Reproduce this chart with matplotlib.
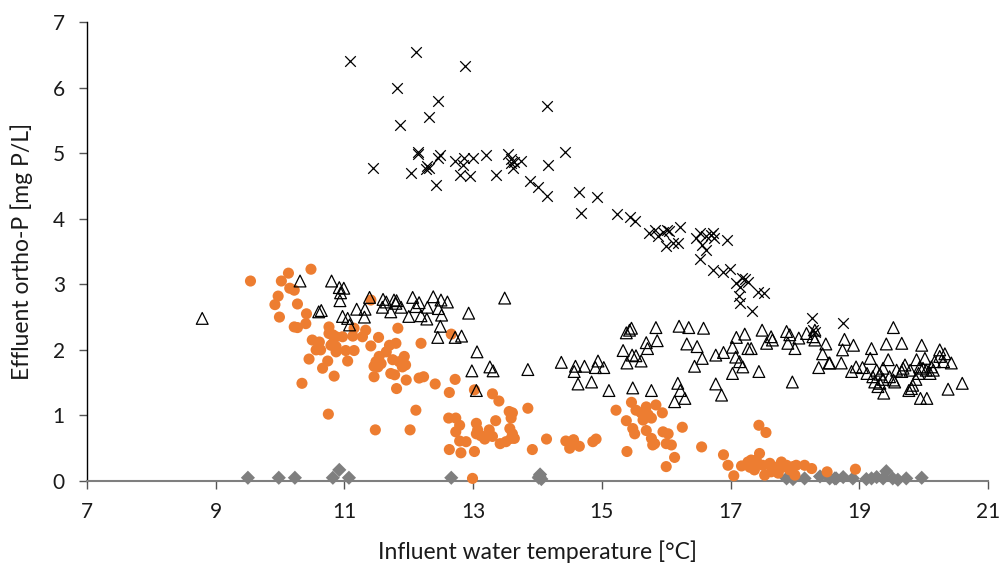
import matplotlib
matplotlib.use("Agg")
import matplotlib.pyplot as plt
import numpy as np

# ---- data: influent temperature [°C] vs. effluent ortho-P [mg P/L] ----
cross_temp = [11.08, 12.11, 12.88, 11.82, 12.46, 14.14, 12.32, 11.87,
              12.14, 12.15, 12.48, 12.45, 11.44, 12.04, 12.29, 12.32, 12.26, 12.43,
              12.72, 12.86, 12.99, 12.84, 12.80, 12.95, 13.20, 13.36, 13.54, 13.59,
              13.64, 13.59, 13.75, 13.62, 13.88, 14.00, 14.14, 14.17, 14.42,
              14.65, 14.92, 14.68, 15.23, 15.43, 15.52, 15.74, 15.82, 15.87, 15.95,
              16.01, 16.05, 16.21, 16.18, 16.10, 15.99, 16.52, 16.47, 16.62, 16.73,
              16.75, 16.70, 16.94, 16.55, 16.62, 16.52, 16.73, 16.88, 16.99, 17.17,
              17.22, 17.27, 17.08, 17.14, 17.13, 17.14, 17.43, 17.52, 17.34,
              18.26, 18.28, 18.31, 18.75]
cross_p = [6.40, 6.55, 6.33, 6.00, 5.80, 5.72, 5.55, 5.43,
           4.99, 5.01, 4.97, 4.92, 4.77, 4.70, 4.80, 4.77, 4.76, 4.51,
           4.88, 4.92, 4.93, 4.82, 4.67, 4.65, 4.97, 4.67, 4.99, 4.91,
           4.87, 4.85, 4.88, 4.77, 4.57, 4.48, 4.34, 4.82, 5.02,
           4.40, 4.33, 4.09, 4.07, 4.03, 3.97, 3.78, 3.83, 3.73, 3.80,
           3.83, 3.82, 3.87, 3.63, 3.63, 3.59, 3.78, 3.70, 3.74, 3.78,
           3.70, 3.75, 3.68, 3.60, 3.52, 3.38, 3.22, 3.19, 3.23, 3.09,
           3.08, 3.04, 3.02, 2.96, 2.82, 2.71, 2.89, 2.87, 2.59,
           2.48, 2.30, 2.27, 2.41]

tri_temp = [8.79,
            10.31, 10.80, 10.92, 10.99, 10.94, 10.93, 10.60, 10.64, 10.97, 11.05,
            11.08, 11.31, 11.32, 11.19, 11.39, 11.60, 11.65, 11.59, 11.72, 11.77,
            11.80, 11.88, 11.81, 12.00, 12.06, 12.16, 12.11, 12.19, 12.29, 12.28,
            12.38, 12.50, 12.60, 12.46, 12.51, 12.49, 12.45, 12.93, 12.72, 12.82,
            13.06, 12.98, 13.05,
            13.49, 13.26, 13.31, 13.85, 14.37, 14.59, 14.57, 14.73, 14.94, 14.90,
            15.03, 14.63, 14.84, 15.11, 15.33, 15.38, 15.43, 15.46, 15.39, 15.47,
            15.53, 15.61, 15.69, 15.71, 15.84, 15.86, 15.48, 15.77,
            16.20, 16.35, 16.58, 16.32, 16.48, 16.77, 16.89, 16.44, 16.56, 17.09,
            17.22, 17.03, 17.27, 17.32, 17.08, 17.14, 17.19, 17.03, 17.44, 17.49,
            17.56, 17.63, 17.65, 16.18, 16.22, 16.13, 16.29, 16.77, 16.86,
            17.87, 17.92, 17.89, 18.00, 18.06, 18.18, 18.31, 18.28, 18.31, 18.48,
            18.43, 18.53, 18.37, 17.96,
            18.77, 18.74, 18.91, 18.54, 18.72, 18.88, 18.95, 19.05, 19.19, 19.17,
            19.53, 19.42, 19.66, 19.97, 20.25, 20.33, 20.43, 20.60, 20.38, 19.95,
            20.05, 19.81, 19.77, 19.38, 19.29, 19.24,
            19.12, 19.27, 19.32, 19.37, 19.45, 19.47, 19.53, 19.58, 19.66, 19.71,
            19.79, 19.89, 19.92, 19.94, 19.99, 20.02, 20.04, 20.10, 20.12, 20.15,
            20.17, 20.25, 20.31, 19.37, 19.55, 19.83, 19.88, 19.68, 19.32, 19.21]
tri_p = [2.48,
         3.05, 3.05, 2.95, 2.94, 2.87, 2.75, 2.58, 2.60, 2.51, 2.48,
         2.38, 2.50, 2.62, 2.62, 2.80, 2.77, 2.73, 2.65, 2.58, 2.76,
         2.71, 2.65, 2.75, 2.51, 2.80, 2.72, 2.66, 2.52, 2.65, 2.47,
         2.81, 2.76, 2.73, 2.63, 2.53, 2.36, 2.19, 2.56, 2.19, 2.21,
         1.97, 1.68, 1.38,
         2.79, 1.74, 1.68, 1.70, 1.81, 1.75, 1.67, 1.75, 1.83, 1.73,
         1.73, 1.48, 1.51, 1.38, 1.99, 2.26, 2.30, 2.33, 1.80, 1.92,
         1.91, 1.83, 2.11, 2.02, 2.34, 2.14, 1.42, 1.38,
         2.36, 2.34, 2.33, 2.09, 2.05, 1.92, 1.96, 1.75, 1.87, 2.19,
         2.24, 2.04, 2.02, 2.02, 1.89, 1.82, 1.74, 1.64, 1.67, 2.30,
         2.10, 2.20, 2.15, 1.49, 1.38, 1.21, 1.26, 1.48, 1.31,
         2.28, 2.23, 2.10, 2.02, 2.18, 2.25, 2.30, 2.20, 2.15, 2.09,
         1.94, 1.80, 1.73, 1.51,
         2.16, 2.00, 2.07, 1.80, 1.80, 1.67, 1.74, 1.73, 2.02, 1.87,
         2.34, 2.09, 2.10, 2.07, 2.00, 1.94, 1.80, 1.49, 1.40, 1.26,
         1.26, 1.41, 1.38, 1.34, 1.44, 1.51,
         1.64, 1.69, 1.63, 1.72, 1.85, 1.59, 1.54, 1.69, 1.67, 1.77,
         1.69, 1.85, 1.64, 1.74, 1.72, 1.87, 1.69, 1.64, 1.74, 1.69,
         1.82, 1.90, 1.82, 1.55, 1.51, 1.46, 1.55, 1.72, 1.49, 1.59]

circ_temp = [9.54, 10.02, 9.97, 9.92, 9.99,
             10.48, 10.13, 10.15, 10.22, 10.27, 10.41, 10.40, 10.22, 10.27, 10.76,
             10.76, 10.82, 10.87, 10.97, 11.13, 11.15, 11.33, 11.28, 11.53, 10.50,
             10.61, 10.82, 10.79, 10.87, 10.56, 10.63, 11.02, 11.15, 10.87, 11.41,
             11.70, 11.80, 11.83, 12.19, 11.65, 11.54, 11.49, 11.57, 11.75, 11.85,
             11.93, 11.95, 11.90, 10.45, 10.74, 11.05, 10.66, 11.46, 11.52, 10.84,
             11.46, 11.72, 11.78, 11.96, 10.34, 11.81, 12.16, 12.23, 12.41, 12.63,
             12.72, 13.02,
             10.75, 12.11, 11.48, 12.02, 12.62, 12.73, 12.79, 12.73, 12.89, 12.79,
             12.63, 12.81, 13.02, 13.05, 13.05, 12.66, 12.99, 11.41,
             13.30, 13.40, 13.85, 13.56, 13.61, 13.59, 13.35, 13.25, 13.07, 13.57,
             13.61, 13.59, 13.64, 13.12, 13.18, 13.30, 13.42, 13.51, 13.92, 14.14,
             14.44, 14.56, 14.50, 14.65, 14.86, 14.91, 15.22, 15.46, 15.53, 15.61,
             15.69, 15.72, 15.64, 15.77, 15.84, 15.94, 15.38, 15.48, 15.51, 15.69,
             15.39, 15.77, 15.82, 15.79, 16.00,
             15.95, 16.03, 16.08, 16.00, 16.25, 16.13, 16.55, 17.44, 17.55, 16.89,
             16.96, 17.05,
             17.17, 17.27, 17.32, 17.40, 17.45, 17.30, 17.37, 17.40, 17.50, 17.53,
             17.61, 17.69, 17.79, 17.81, 17.87, 17.92, 17.97, 18.00, 18.02, 18.15,
             18.26, 18.50, 17.74, 17.63, 18.94]
circ_p = [3.05, 3.05, 2.82, 2.69, 2.50,
          3.23, 3.17, 2.94, 2.91, 2.70, 2.55, 2.40, 2.35, 2.34, 2.35,
          2.25, 2.23, 2.20, 2.20, 2.21, 2.33, 2.30, 2.20, 2.19, 2.15,
          2.12, 2.10, 2.07, 2.05, 2.00, 2.00, 1.99, 1.99, 1.97, 2.06,
          2.07, 2.10, 2.33, 2.10, 1.97, 1.90, 1.82, 1.79, 1.85, 1.82,
          1.90, 1.77, 1.74, 1.86, 1.83, 1.83, 1.72, 1.75, 1.74, 1.60,
          1.59, 1.64, 1.62, 1.54, 1.49, 1.41, 1.57, 1.59, 1.48, 1.35,
          1.55, 1.39,
          1.02, 1.08, 0.78, 0.78, 0.96, 0.96, 0.85, 0.75, 0.60, 0.61,
          0.48, 0.43, 0.45, 0.88, 0.72, 2.24, 0.04, 2.76,
          1.33, 1.22, 1.11, 1.06, 1.04, 0.96, 0.92, 0.78, 0.78, 0.80,
          0.72, 0.65, 0.65, 0.69, 0.64, 0.68, 0.57, 0.60, 0.48, 0.64,
          0.61, 0.63, 0.50, 0.53, 0.60, 0.64, 1.08, 1.20, 1.08, 1.04,
          1.13, 1.01, 0.93, 0.96, 1.16, 1.04, 0.92, 0.80, 0.72, 0.77,
          0.45, 0.65, 0.57, 0.55, 0.22,
          0.75, 0.72, 0.55, 0.57, 0.82, 0.36, 0.52, 0.85, 0.74, 0.40,
          0.24, 0.08,
          0.23, 0.29, 0.32, 0.32, 0.42, 0.21, 0.17, 0.27, 0.24, 0.09,
          0.27, 0.21, 0.29, 0.21, 0.24, 0.17, 0.22, 0.09, 0.24, 0.24,
          0.19, 0.14, 0.12, 0.14, 0.18]

dia_temp = [9.50, 9.98, 10.23, 10.82, 10.92, 11.07, 12.66, 14.02, 14.04, 14.06,
            14.03, 17.87, 17.97, 18.15, 18.39, 18.54, 18.64, 18.62, 18.75, 18.90,
            19.11, 19.19, 19.27, 19.42, 19.37, 19.52, 19.60, 19.73, 19.97]
dia_p = [0.05, 0.05, 0.05, 0.05, 0.17, 0.05, 0.05, 0.05, 0.10, 0.03,
         0.07, 0.04, 0.03, 0.04, 0.07, 0.04, 0.04, 0.04, 0.06, 0.04,
         0.03, 0.04, 0.06, 0.15, 0.04, 0.04, 0.02, 0.04, 0.05]

x_ticks = [7, 9, 11, 13, 15, 17, 19, 21]
y_ticks = [0, 1, 2, 3, 4, 5, 6, 7]

plt.rcParams['font.family'] = ['Lato', 'DejaVu Sans']

fig = plt.figure(figsize=(10.06, 5.70), dpi=100)
ax = fig.add_axes([0.0865, 0.1561, 0.8956, 0.8053])

ax.scatter(dia_temp, dia_p, marker='D', s=52, color='#7f7f7f',
           edgecolors='none', zorder=3, clip_on=False)
ax.scatter(circ_temp, circ_p, marker='o', s=64, color='#ed7d31',
           edgecolors='none', zorder=4, clip_on=False)
ax.scatter(tri_temp, tri_p, marker='^', s=72, facecolors='none',
           edgecolors='black', linewidths=0.9, zorder=5, clip_on=False)
ax.scatter(cross_temp, cross_p, marker='x', s=58, color='black',
           linewidths=0.9, zorder=6, clip_on=False)

ax.set_xlim(7, 21)
ax.set_ylim(0, 7)
ax.set_xticks(x_ticks)
ax.set_yticks(y_ticks)
ax.tick_params(axis='both', labelsize=15, length=6, width=1, direction='out',
               labelcolor='#1a1a1a')
ax.tick_params(axis='x', color='#555555', pad=9)
ax.tick_params(axis='y', color='#555555', pad=10)

for side in ('top', 'right'):
    ax.spines[side].set_visible(False)
ax.spines['left'].set_color('black')
ax.spines['left'].set_linewidth(1.0)
ax.spines['bottom'].set_color('#7f7f7f')
ax.spines['bottom'].set_linewidth(1.5)

ax.set_xlabel('Influent water temperature [°C]', fontsize=16.5, color='#1a1a1a', labelpad=13)
ax.set_ylabel('Effluent ortho-P [mg P/L]', fontsize=16.5, color='#1a1a1a', labelpad=14)

fig.savefig('out.png', dpi=100)
